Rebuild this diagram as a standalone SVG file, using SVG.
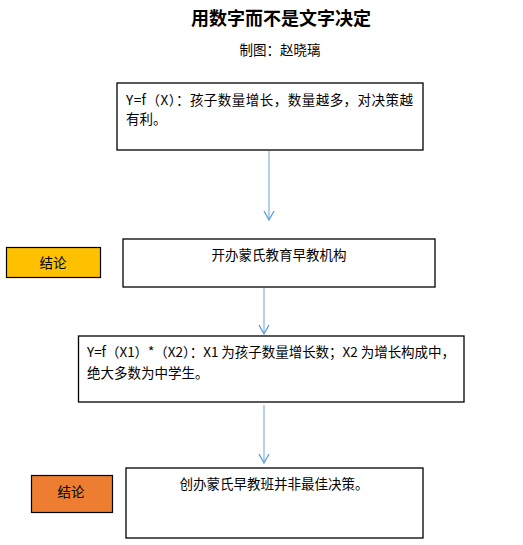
<svg xmlns="http://www.w3.org/2000/svg" width="523" height="545" viewBox="0 0 523 545">
<style>
text{font-family:"Microsoft YaHei","Noto Sans CJK SC","Liberation Sans",sans-serif;fill:#000}
.box{fill:#fff;stroke:#000;stroke-width:1.3}
.t{font-size:13.5px}
.c{text-anchor:middle}
.conn{stroke:#9DC3E6;stroke-width:1.5;fill:none}
.head{stroke:#5B9BD5;stroke-width:1.3;fill:none}
</style>
<rect width="523" height="545" fill="#fff"/>
<text x="281" y="25" class="c" style="font-size:18px;font-weight:bold">用数字而不是文字决定</text>
<text x="280" y="55" class="c" style="font-size:13.5px">制图：赵晓璃</text>

<g id="n1">
<rect class="box" x="117" y="83" width="306" height="67"/>
<text x="126" y="105" class="t" textLength="287">Y=f（X）：孩子数量增长，数量越多，对决策越</text>
<text x="126" y="124" class="t">有利。</text>
</g>
<g id="n2">
<rect class="box" x="123" y="239" width="312" height="48"/>
<text x="279" y="260" class="t c">开办蒙氏教育早教机构</text>
</g>
<g id="label1">
<rect x="6.5" y="247.5" width="94" height="30" fill="#FFC000" stroke="#000" stroke-width="1.2"/>
<text x="53" y="268" class="t c">结论</text>
</g>
<g id="n3">
<rect class="box" x="78.5" y="336" width="385.5" height="66"/>
<text x="87" y="357" class="t" textLength="368">Y=f（X1）*（X2）：X1 为孩子数量增长数；X2 为增长构成中，</text>
<text x="87" y="378" class="t">绝大多数为中学生。</text>
</g>
<g id="n4">
<rect class="box" x="126" y="468" width="297" height="70"/>
<text x="274" y="489" class="t c">创办蒙氏早教班并非最佳决策。</text>
</g>
<g id="label2">
<rect x="31.5" y="475.5" width="81" height="37" fill="#ED7D31" stroke="#000" stroke-width="1.2"/>
<text x="71" y="497" class="t c">结论</text>
</g>

<g id="connectors">
<line class="conn" x1="269" y1="151" x2="269" y2="219"/>
<path class="head" d="M264,211 L269,220 L274,211"/>
<line class="conn" x1="264" y1="288" x2="264" y2="333"/>
<path class="head" d="M259,325 L264,334 L269,325"/>
<line class="conn" x1="264" y1="405" x2="264" y2="462"/>
<path class="head" d="M259,454 L264,463 L269,454"/>
</g>
</svg>
